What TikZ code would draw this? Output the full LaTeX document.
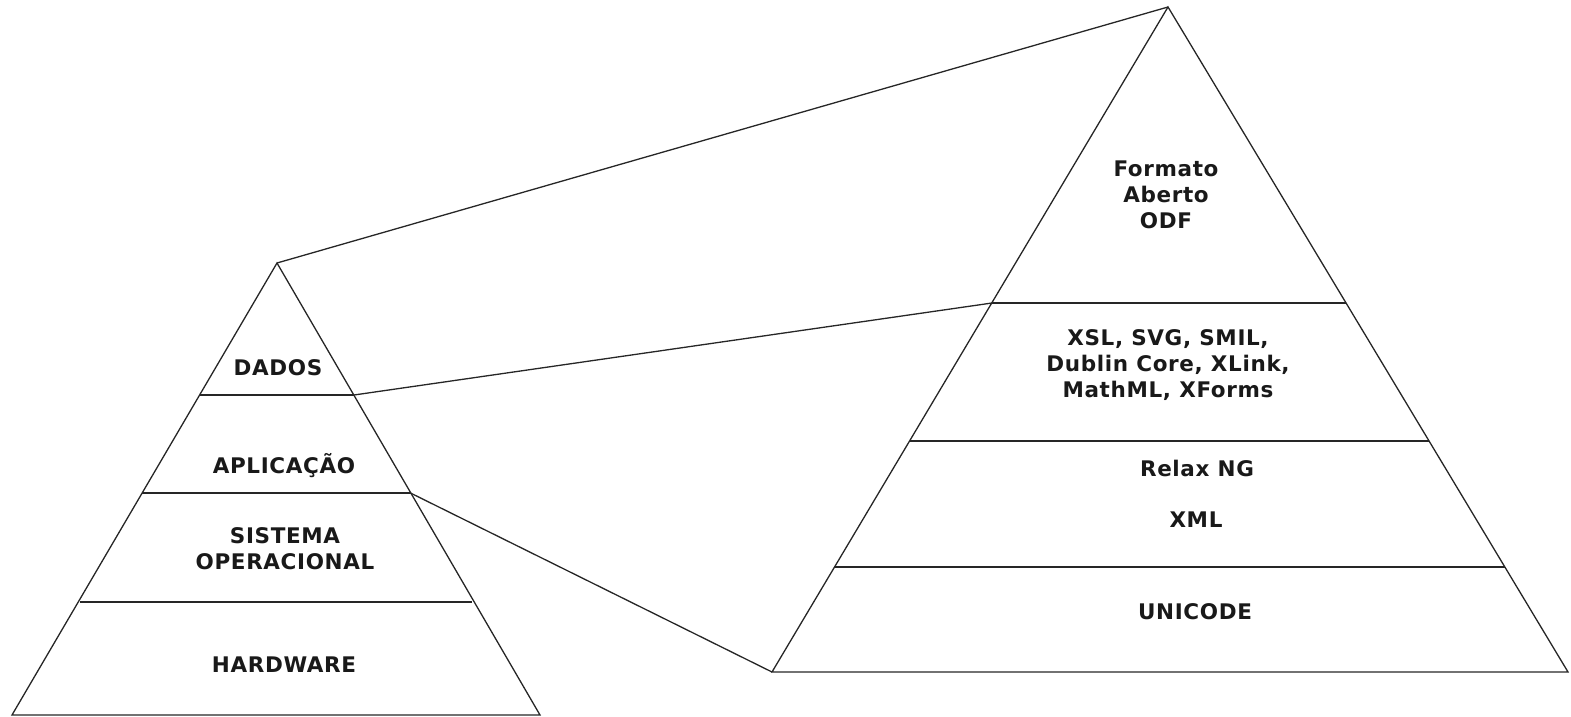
\documentclass[tikz,border=0pt]{standalone}
\usepackage{fontspec}
\setmainfont{DejaVu Sans}[LetterSpace=3]
\begin{document}
\begin{tikzpicture}[x=1pt,y=-1pt,
  edge/.style={line width=1.3pt,black!85},
  lbl/.style={font=\fontsize{21.5}{26}\selectfont\bfseries,align=center,inner sep=0pt,text=black!90}]
\useasboundingbox (0,0) rectangle (1571,717);
% left pyramid
\coordinate (LA) at (277,263);
\coordinate (LBL) at (12,715);
\coordinate (LBR) at (540,715);
\coordinate (L1l) at (199.6,395);
\coordinate (L1r) at (354,395);
\coordinate (L2l) at (142,493);
\coordinate (L2r) at (410.5,493);
\coordinate (L3l) at (80,602);
\coordinate (L3r) at (472,602);
\draw[edge] (LA) -- (LBL) -- (LBR) -- cycle;
\draw[edge] (L1l) -- (L1r);
\draw[edge] (L2l) -- (L2r);
\draw[edge] (L3l) -- (L3r);
% right pyramid
\coordinate (RA) at (1168,7);
\coordinate (RBL) at (772,672);
\coordinate (RBR) at (1568,672);
\coordinate (R1l) at (992,303);
\coordinate (R1r) at (1346,303);
\coordinate (R2l) at (910,441);
\coordinate (R2r) at (1429,441);
\coordinate (R3l) at (834,567);
\coordinate (R3r) at (1505,567);
\draw[edge] (RA) -- (RBL) -- (RBR) -- cycle;
\draw[edge] (R1l) -- (R1r);
\draw[edge] (R2l) -- (R2r);
\draw[edge] (R3l) -- (R3r);
% connectors
\draw[edge] (LA) -- (RA);
\draw[edge] (L1r) -- (R1l);
\draw[edge] (L2r) -- (RBL);
% left labels
\node[lbl] (dados) at (278,368) {DADOS};
\node[lbl] (apl) at (284,466) {APLICAÇÃO};
\node[lbl] (so) at (285,549) {SISTEMA\\OPERACIONAL};
\node[lbl] (hw) at (284,665) {HARDWARE};
% right labels
\node[lbl] (odf) at (1166,195) {Formato\\Aberto\\ODF};
\node[lbl] (xsl) at (1168,365) {XSL, SVG, SMIL,\\Dublin Core, XLink,\\MathML, XForms};
\node[lbl] (relax) at (1197,468) {Relax NG};
\node[lbl] (xml) at (1196,520) {XML};
\node[lbl] (uni) at (1195,612) {UNICODE};
\end{tikzpicture}
\end{document}
